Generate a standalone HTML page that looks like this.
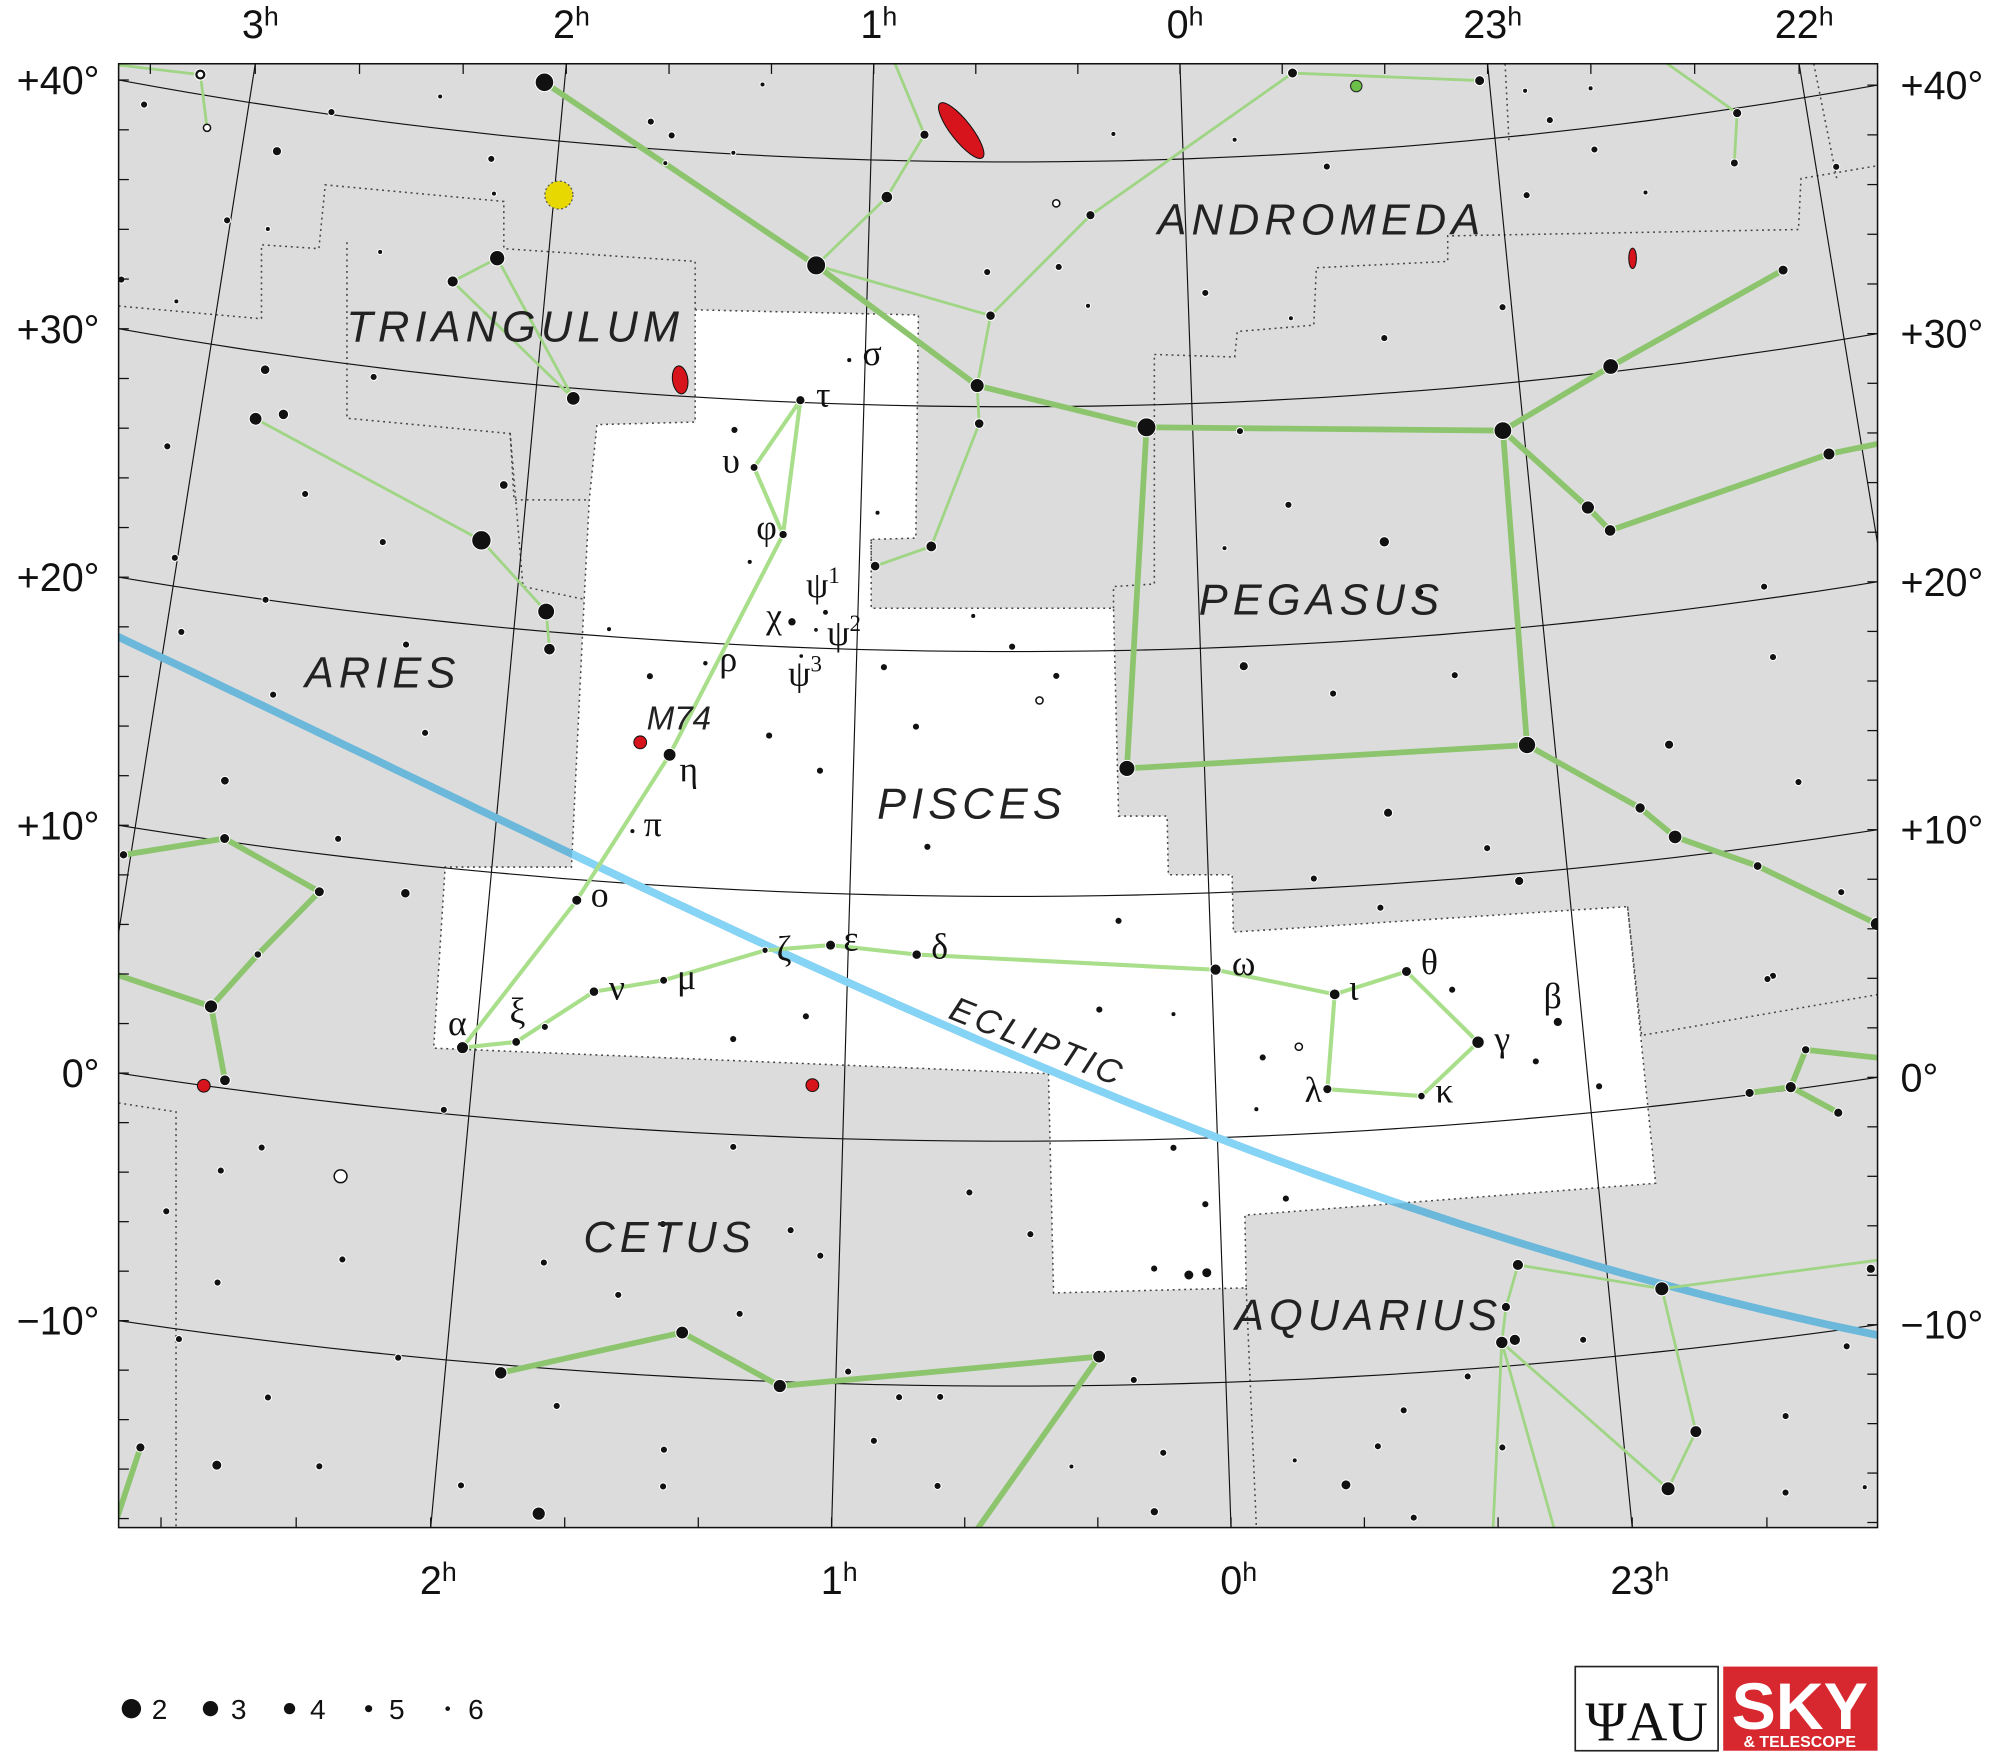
<!DOCTYPE html>
<html><head><meta charset="utf-8"><title>Pisces</title>
<style>
html,body{margin:0;padding:0;background:#fff;width:2000px;height:1752px;overflow:hidden;}
svg{display:block;position:absolute;left:0;top:0;}
text{font-family:"Liberation Sans",sans-serif;}
.cn{font-style:italic;font-size:34px;letter-spacing:4px;fill:#222;}
.gk{font-family:"Liberation Serif",serif;font-size:28px;fill:#111;}
.ax{font-size:31px;fill:#111;}
</style></head>
<body>
<svg id="chart" xmlns="http://www.w3.org/2000/svg" width="2000" height="1752" viewBox="0 0 1568 1374" preserveAspectRatio="none">
<defs>
<clipPath id="frameClip"><rect x="93" y="50" width="1379" height="1148"/></clipPath>
<clipPath id="whiteClip"><polygon id="wcp" points=""/></clipPath>
</defs>
<rect x="93" y="50" width="1379" height="1148" fill="#dcdcdc"/>
<g id="gWhite" clip-path="url(#frameClip)"></g>
<g id="gBound" clip-path="url(#frameClip)" fill="none" stroke="#444" stroke-width="1.2" stroke-dasharray="1.5 3"></g>
<g id="gGrid" clip-path="url(#frameClip)" fill="none" stroke="#111" stroke-width="0.9"></g>
<g id="gEcl" clip-path="url(#frameClip)" fill="none"></g>
<g id="gLines" clip-path="url(#frameClip)" fill="none" stroke-linecap="round"></g>
<g id="gStars" clip-path="url(#frameClip)"></g>
<g id="gLabels"></g>
<rect x="93" y="50" width="1379" height="1148" fill="none" stroke="#111" stroke-width="1.2"/>
<g id="gTicks" stroke="#111" stroke-width="1"></g>
<g id="gAxis"></g>
<g id="gLegend"></g>
<g>
<rect x="1235" y="1307" width="112" height="66" fill="#fff" stroke="#222" stroke-width="1.3"/>
<text x="1291" y="1365" text-anchor="middle" style="font-family:'Liberation Serif',serif;font-size:44px;fill:#111;">ΨAU</text>
</g>
<g>
<rect x="1351" y="1307" width="121" height="66" fill="#d7282f"/>
<text x="1411" y="1356" text-anchor="middle" style="font-weight:bold;font-size:52px;fill:#fff;">SKY</text>
<text x="1411" y="1370" text-anchor="middle" style="font-weight:bold;font-size:12.5px;fill:#fff;">&amp; TELESCOPE</text>
</g>
</svg>
<script>
const namedStarNames = ["alfAnd","betAnd","gamAnd","delAnd","muAnd","nuAnd","nuAndX","piAnd","epsAnd","zetAnd","etaAnd","sigAnd","lamAnd","kapAnd",
"betPeg","alfPeg","gamPeg","etaPeg","piPeg","lac0","lac1","lac2","muPeg","lamPeg","iotPeg","kapPeg","xiPeg","zetPeg","pegA","thePeg",
"alfPsc","xiPsc","nuPsc","muPsc","zetPsc","epsPsc","delPsc","omePsc","iotPsc","thePsc","gamPsc","kapPsc","lamPsc","betPsc","omiPsc","etaPsc","piPsc","rhoPsc","chiPsc","psi1Psc","psi2Psc","psi3Psc","phiPsc","upsPsc","tauPsc","sigPsc",
"alfTri","betTri","gamTri","alfAri","betAri","gamAri","a41Ari",
"lamCet","muCet","xi2Cet","nuCet","alfCet","gamCet","delCet","zetCet","tauCet","betCet","theCet","etaCet","iotCet","cetB","cetC",
"aq1","aq2","aq3","aq4","aq5","aq5b","aq6","aq7","aq8","aq9","aq10",
"psA","psB","psC","psD","psE","tl0","tl1","tl2"];
const namedStarRA = [0.140,1.162,2.065,0.655,0.946,0.830,0.95,0.615,0.648,0.788,0.953,0.30,-0.365,-0.969,
-0.937,-0.921,0.221,-1.283,-1.848,-1.579,-1.779,-1.747,-1.167,-1.225,-1.90,-2.256,-1.221,-1.309,-1.527,-1.83,
2.034,1.891,1.691,1.503,1.229,1.049,0.811,-0.011,-0.334,-0.534,-0.714,-0.551,-0.300,-0.934,1.757,1.525,1.616,1.438,1.192,1.095,1.121,1.161,1.229,1.325,1.194,1.049,
1.885,2.159,2.289,2.120,1.911,1.892,2.833,
3.02,2.749,2.469,2.615,3.038,2.722,2.658,1.858,1.734,0.726,1.40,1.143,0.324,2.745,2.80,
-0.771,-1.137,-1.68,-0.731,-0.713,-0.747,-1.184,-1.099,-0.638,-0.831,-1.90,
-1.426,-1.537,-1.653,-1.59,-1.85,3.433,3.169,3.12];
const namedStarDec = [29.09,35.62,42.33,30.86,38.50,41.08,44.5,33.72,29.31,24.27,23.42,37.8,43.3,42.4,
28.08,15.20,15.18,30.22,33.18,42.2,39.8,37.8,24.60,23.57,25.47,25.65,12.17,10.83,9.23,6.2,
2.76,3.19,5.49,6.14,7.58,7.89,7.59,6.86,5.63,6.38,3.28,1.26,1.78,3.82,9.16,15.35,12.14,19.17,21.03,21.47,20.74,19.65,24.58,27.26,30.09,31.8,
29.58,34.99,33.85,23.46,20.81,19.29,27.26,
8.84,10.11,8.46,5.6,4.09,3.24,0.33,-10.33,-15.94,-17.99,-8.18,-10.18,-8.82,-15.0,-20,
-5.92,-7.45,-7.7,-7.59,-9.02,-8.96,-13.4,-15.6,-18.7,-18.96,-7.45,
0.08,0.1,-1.2,1.53,0.5,40.6,40.8,38.7];
const namedStarMag = [2.1,2.1,2.2,3.3,3.9,4.5,0,4.4,4.4,4.1,4.4,4.5,4.3,4.3,
2.4,2.5,2.8,2.9,4.3,0,4.5,4.8,3.5,3.9,3.8,4.1,4.2,3.4,4.6,3.5,
3.8,4.6,4.4,4.8,5.2,4.3,4.4,4.0,4.1,4.3,3.7,4.9,4.5,4.5,4.3,3.6,5.5,5.4,4.7,5.3,5.6,5.6,4.7,4.8,4.5,5.5,
3.4,3.0,4.0,2.0,2.6,3.9,3.6,
4.7,4.3,4.3,4.9,2.5,3.5,4.1,3.7,3.5,2.0,3.6,3.5,3.6,4.5,0,
4.0,3.3,4.5,4.5,3.7,4.0,3.8,3.3,0,0,0,
4.5,4.0,4.5,4.7,0,0,4.0,5.0];

const fieldRA = [3.33,2.889,3.011,2.881,3.304,3.126,2.524,2.735,2.395,2.21,2.19,1.712,1.642,1.656,1.359,1.441,0.626,0.222,-0.167,-0.457,-1.112,-1.181,-1.323,-1.312,-1.082,-1.456,-2.063,-0.972,-0.600,-0.316,-0.054,0.312,0.402,-0.143,-0.556,-0.278,-0.082,-0.651,-0.124,-0.378,-0.732,-1.653,-1.65,-1.323,-1.672,-0.513,-0.783,-0.864,-0.294,-0.474,-1.529,-1.746,-1.028,-0.865,-0.655,-0.13,-0.107,-0.175,0.118,0.177,0.087,0.04,0.038,0.236,0.191,0.398,0.165,-0.167,-0.293,-0.379,-0.45,-0.922,-1.591,-1.414,-1.39,-1.588,
0.92,1.244,0.824,1.095,0.786,0.662,0.548,0.42,1.324,1.39,0.95,0.253,0.108,0.31,1.305,1.11,1.817,1.596,1.724,
3.082,2.752,2.496,2.655,2.826,3.008,2.728,2.956,2.307,2.771,2.225,2.232,2.435,2.669,2.07,2.409,2.538,2.637,2.764,2.293,2.607,2.686,2.442,2.549,2.123,2.293,2.068,1.934,1.571,1.77,1.427,1.43,1.254,1.05,0.969,0.837,0.732,0.899,0.50,0.661,0.736,1.291,1.13,1.466,1.709,-0.619,-0.458,-0.693,-1.513,1.086];
const fieldDec = [39.2,38.2,35.1,35.0,32.0,31.5,34.7,40.1,41.3,39.0,37.6,41.1,40.6,39.45,42.9,40.05,35.5,41.1,40.7,39.4,41.8,40.5,41.6,39.1,37.55,37.1,37.0,33.1,32.25,33.3,34.5,34.1,35.7,28.8,23.95,25.7,24.05,21.8,19.2,17.9,18.3,20.5,17.6,14.6,12.4,12.9,11.15,9.7,10.4,9.05,4.7,7.7,1.04,2.3,5.5,3.2,1.1,-2.6,-0.36,-5.27,-5.57,-5.5,-2.7,-9.8,-15.2,-13.3,-12.8,-13.3,-14.4,-12.9,-11.5,-9.2,-10.7,-13.2,-16.3,-16.5,
19.3,16.35,16.9,15.0,12.0,21.45,20.2,19.0,23.4,28.75,25.6,8.96,5.1,5.35,3.9,4.95,3.9,18.5,20.3,
25.6,27.6,29.6,24.5,29.3,21.15,20.0,18.2,18.9,12.45,15.4,8.8,10.7,16.2,25.8,22.95,-2.2,-3.35,-5.3,-6.35,-7.9,-10.4,-12.3,-15.3,-10.1,-14.85,0.16,-15.05,-6.8,-5.7,-14.5,-13.0,-7.3,-4.8,-9.5,-10.5,-10.46,-12.3,-3.8,-2.1,-14.1,-0.5,-3.8,-3.8,-11.5,-10.3,-15.9,-13.3,4.6,2.15];
const fieldMag = [5,4.5,5,5.5,5,5.5,5.5,5,5.5,5,5.5,5,5,5.5,5.5,5.5,5,5.5,5.5,5,5.5,5,5.5,5,5,5.5,5,5,5,5.5,5,5.5,5,5,4.2,5,5.5,5,4.5,5,5,5,5,4.5,5,4.5,5,4.5,5,5,5,5,5,5,5,5,5.5,5,5,5,4.3,4.3,5,5,4.7,5.5,5,5.5,4.3,5,5,5,5,5,5,5.5,
5,5,5,5,5,5.5,5,5,5.5,5,5.5,5,5.5,5,5,5,5,5,5.5,
5,4.2,5,5,4.4,5,5,5,5,4.6,5,4.4,5,5,4.6,5,5,5,5,5,5,5,5,4.3,5,5,5,5,5,5,5,5,5,5,5,5,5,5,5,5,5,5,5,5,5,5,5,5,5,5.5];

const openRA = [2.322,-0.229,0.469,0.408,3.169,3.12];
const openDec = [-2.98,3.57,18.0,38.3,40.8,38.7];

const dsoNames = ["M31","M33","NGC7331","M77","M74","NGC488"];
const dsoRA = [0.712,1.564,-1.39,2.712,1.611,1.086];
const dsoDec = [41.27,30.66,34.5,-0.01,15.78,2.15];
const dsoRx = [8,6,3,5,5,5];
const dsoRy = [27,11,8,5,5,5];
const dsoRot = [-38,-8,0,0,0,0];

const figures = [
 [1,["gamAnd","betAnd","delAnd","alfAnd"]],
 [1,["alfAnd","betPeg","alfPeg","gamPeg","alfAnd"]],
 [0,["betAnd","muAnd","nuAnd","nuAndX"]],
 [0,["betAnd","piAnd","sigAnd","lamAnd","kapAnd"]],
 [0,["piAnd","delAnd","epsAnd","zetAnd","etaAnd"]],
 [1,["betPeg","etaPeg","piPeg"]],
 [1,["betPeg","muPeg","lamPeg","iotPeg","kapPeg"]],
 [1,["alfPeg","xiPeg","zetPeg","pegA","thePeg"]],
 [0,["lac0","lac1","lac2"]],
 [0,["tl0","tl1","tl2"]],
 [2,["alfPsc","omiPsc","etaPsc","phiPsc","tauPsc","upsPsc","phiPsc"]],
 [2,["alfPsc","xiPsc","nuPsc","muPsc","zetPsc","epsPsc","delPsc","omePsc","iotPsc","thePsc","gamPsc","kapPsc","lamPsc","iotPsc"]],
 [0,["gamTri","betTri","alfTri","gamTri"]],
 [0,["a41Ari","alfAri","betAri","gamAri"]],
 [1,["lamCet","muCet","xi2Cet","nuCet","gamCet","alfCet"]],
 [1,["gamCet","delCet","omiCet","zetCet","tauCet","betCet"]],
 [1,["zetCet","theCet","etaCet","iotCet","betCet"]],
 [1,["cetB","cetC"]],
 [0,["aq1","aq2","aq10"]],
 [0,["aq1","aq4","aq5"]],
 [0,["aq5","aq8"]],
 [0,["aq5","aq9"]],
 [0,["aq5","aq7","aq6","aq2"]],
 [1,["psA","psB","psC"]],
 [1,["psB","psD","psE"]]
];

const greekStars = ["alfPsc","xiPsc","nuPsc","muPsc","zetPsc","epsPsc","delPsc","omePsc","iotPsc","thePsc","gamPsc","kapPsc","lamPsc","betPsc","omiPsc","etaPsc","piPsc","rhoPsc","chiPsc","psi1Psc","psi2Psc","psi3Psc","phiPsc","upsPsc","tauPsc","sigPsc"];
const greekText = ["α","ξ","ν","μ","ζ","ε","δ","ω","ι","θ","γ","κ","λ","β","ο","η","π","ρ","χ","ψ","ψ","ψ","φ","υ","τ","σ"];
const greekSup = ["","","","","","","","","","","","","","","","","","","","1","2","3","","","",""];
const greekOffX = [-4,1,18,18,15,16,18,22,15,18,19,18,-11,-4,18,15,16,18,-14,-2,22,3,-13,-18,18,18];
const greekOffY = [-10,-15,6,7,8,4,3,4,4,2,7,5,10,-11,5,21,4,6,5,-12,12,23,4,4,5,4];

const consNames = ["TRIANGULUM","ANDROMEDA","PEGASUS","ARIES","PISCES","CETUS","AQUARIUS"];
const consX = [404,1036,1036,300,762,525,1073];
const consY = [268,184,482,539,642,982,1043];

const topHours = [3,2,1,0,-1,-2];
const topHourLabels = ["3","2","1","0","23","22"];
const bottomHours = [2,1,0,-1];
const bottomHourLabels = ["2","1","0","23"];
const decLines = [40,30,20,10,0,-10];
const decLabels = ["+40°","+30°","+20°","+10°","0°","−10°"];
const legendMags = [2,3,4,5,6];

const PX=793.5, PY=-3724, R0=4619, KD=19.2, RA0=0.548, W=0.0636;
function proj(h,d){const th=-(h-RA0)*W;const r=R0-KD*d;return [PX+r*Math.sin(th),PY+r*Math.cos(th)];}
function rad(m){return Math.max(1.8,7.6-1.6*(m-2));}
const NS="http://www.w3.org/2000/svg";
function mk(tag,attrs,parent){const e=document.createElementNS(NS,tag);for(const k in attrs)e.setAttribute(k,attrs[k]);parent.appendChild(e);return e;}
const starIdx={};namedStarNames.forEach((n,i)=>starIdx[n]=i);
function sp(n){const i=starIdx[n];return proj(namedStarRA[i],namedStarDec[i]);}

const whitePts="545,243 720,247 718,422 683,423 683,477 873,477 877,640 915,640 916,686 966,686 967,731 1276,711 1298,928 976,953 977,1010 826,1014 822,842 340,822 349,680 448,680 458,470 462,392 468,333 545,331";
document.getElementById('wcp').setAttribute('points',whitePts);
const gW=document.getElementById('gWhite');
const wp=mk('polygon',{points:whitePts,fill:'#fff'},gW);


const gB=document.getElementById('gBound');
const bounds=[whitePts+" 545,243",
"93,240 205,250 205,192 250,195 255,145 395,158 395,195 545,205 545,243",
"272,190 272,328 400,340 403,392 462,392",
"400,340 410,460 458,470",
"683,423 683,442",
"905,278 968,280 970,260 1030,255 1032,210 1135,205 1135,185 1410,180 1412,140 1472,130",
"873,477 873,460 905,458 905,278",
"1276,711 1287,812 1472,780",
"93,865 138,872 138,1198",
"977,1010 985,1198",
"1422,50 1440,140","1180,50 1183,110"];
bounds.forEach((b,i)=>{const e=mk('polyline',{points:b},gB);});

const gG=document.getElementById('gGrid');
[-2,-1,0,1,2,3].forEach(h=>{const a=proj(h,-22),b=proj(h,46);const e=mk('line',{x1:a[0],y1:a[1],x2:b[0],y2:b[1]},gG);});
decLines.forEach(d=>{let s="";for(let h=-2.8;h<=4.01;h+=0.1){const p=proj(h,d);s+=(s?"L":"M")+p[0].toFixed(1)+","+p[1].toFixed(1);}const e=mk('path',{d:s},gG);});

const gE=document.getElementById('gEcl');
let es="";const eps=23.44*Math.PI/180;
for(let h=-2.8;h<=4.01;h+=0.05){const a=h*15*Math.PI/180;const d=Math.atan(Math.tan(eps)*Math.sin(a))*180/Math.PI;const p=proj(h,d);es+=(es?"L":"M")+p[0].toFixed(1)+","+p[1].toFixed(1);}
const e1=mk('path',{d:es,stroke:'#6cb8da','stroke-width':6},gE);


const e2=mk('path',{d:es,stroke:'#86d4f5','stroke-width':6,'clip-path':'url(#whiteClip)'},gE);



const gL=document.getElementById('gLines');
figures.forEach(f=>{const pts=f[1].map(n=>sp(n).map(v=>v.toFixed(1)).join(",")).join(" ");
 const st=f[0]===1?{stroke:'#8dc46e','stroke-width':4.5}:f[0]===2?{stroke:'#a9df8b','stroke-width':3.2}:{stroke:'#9fd584','stroke-width':2.2};
 const e=mk('polyline',Object.assign({points:pts},st),gL);
 
 });

const gS=document.getElementById('gStars');
function drawStar(h,d,m){if(!m)return;const p=proj(h,d);const e=mk('circle',{cx:p[0],cy:p[1],r:rad(m),fill:'#111',stroke:'#fff','stroke-width':0.8},gS);return e;}
fieldRA.forEach((h,i)=>{const e=drawStar(h,fieldDec[i],fieldMag[i]);if(e){}});
namedStarNames.forEach((n,i)=>{const e=drawStar(namedStarRA[i],namedStarDec[i],namedStarMag[i]);if(e){}});
openRA.forEach((h,i)=>{const p=proj(h,openDec[i]);const e=mk('circle',{cx:p[0],cy:p[1],r:i===0?5:2.8,fill:'#fff',stroke:'#111','stroke-width':1.2},gS);});
dsoRA.forEach((h,i)=>{const p=proj(h,dsoDec[i]);const e=mk('ellipse',{cx:p[0],cy:p[1],rx:dsoRx[i],ry:dsoRy[i],fill:'#d7141c',stroke:'#111','stroke-width':0.8,transform:'rotate('+dsoRot[i]+' '+p[0]+' '+p[1]+')'},gS);});
(function(){const p=proj(1.985,37.8);const e=mk('circle',{cx:p[0],cy:p[1],r:11,fill:'#e6d800',stroke:'#555','stroke-width':1,'stroke-dasharray':'1.5 2'},gS);
const q=proj(-0.569,42.6);const g=mk('circle',{cx:q[0],cy:q[1],r:4.5,fill:'#6cc04a',stroke:'#222','stroke-width':0.8},gS);})();

const gLb=document.getElementById('gLabels');
greekStars.forEach((n,i)=>{const p=sp(n);const t=mk('text',{x:p[0]+greekOffX[i],y:p[1]+greekOffY[i],'text-anchor':'middle',class:'gk'},gLb);t.textContent=greekText[i];
 if(greekSup[i]){const s=mk('tspan',{dy:-11,'font-size':18},t);s.textContent=greekSup[i];}
 });
(function(){const i=dsoNames.indexOf("M74");const p=proj(dsoRA[i],dsoDec[i]);const t=mk('text',{x:p[0]+5,y:p[1]-10,class:'cn',style:'font-size:26px;letter-spacing:0'},gLb);t.textContent="M74";})();
consNames.forEach((n,i)=>{const t=mk('text',{x:consX[i],y:consY[i],'text-anchor':'middle',class:'cn'},gLb);t.textContent=n;});
(function(){const t=mk('text',{x:813,y:826,'text-anchor':'middle',class:'cn',style:'font-size:27px;letter-spacing:3px',transform:'rotate(22 813 818)'},gLb);t.textContent="ECLIPTIC";})();

const gT=document.getElementById('gTicks'),gA=document.getElementById('gAxis');
function xAtY(h,y){const th=-(h-RA0)*W;return PX+(y-PY)*Math.tan(th);}
function yAtX(d,x){const r=R0-KD*d;return PY+Math.sqrt(r*r-(x-PX)*(x-PX));}
for(let h=-2.6;h<=3.4;h+=1/3){const hh=Math.round(h*3)/3;[[50,1],[1198,-1]].forEach(([y,s])=>{const x=xAtY(hh,y);if(x>95&&x<1470){const e=mk('line',{x1:x,y1:y,x2:x,y2:y+s*8},gT);}});}
for(let d=-20;d<=44;d+=2){[[93,1],[1472,-1]].forEach(([x,s])=>{const y=yAtX(d,x);if(y>52&&y<1196){const e=mk('line',{x1:x,y1:y,x2:x+s*8,y2:y},gT);}});}
function hourLabel(x,y,txt,name){const t=mk('text',{x:x,y:y,'text-anchor':'middle',class:'ax'},gA);t.textContent=txt;const s=mk('tspan',{dy:-10,'font-size':21},t);s.textContent="h";}
topHours.forEach((h,i)=>hourLabel(xAtY(h,50)+4,30,topHourLabels[i],'top-ra-label'));
bottomHours.forEach((h,i)=>hourLabel(xAtY(h,1198)+6,1250,bottomHourLabels[i],'bottom-ra-label'));
decLines.forEach((d,i)=>{const yl=yAtX(d,93),yr=yAtX(d,1472);
 const a=mk('text',{x:78,y:yl+11,'text-anchor':'end',class:'ax'},gA);a.textContent=decLabels[i];
 const b=mk('text',{x:1490,y:yr+11,class:'ax'},gA);b.textContent=decLabels[i];});

const gLg=document.getElementById('gLegend');
legendMags.forEach((m,i)=>{const x=103+i*62;const c=mk('circle',{cx:x,cy:1340,r:rad(m),fill:'#111'},gLg);
 const t=mk('text',{x:x+16,y:1348,style:'font-size:22px;fill:#111'},gLg);t.textContent=String(m);});
</script>
</body></html>
